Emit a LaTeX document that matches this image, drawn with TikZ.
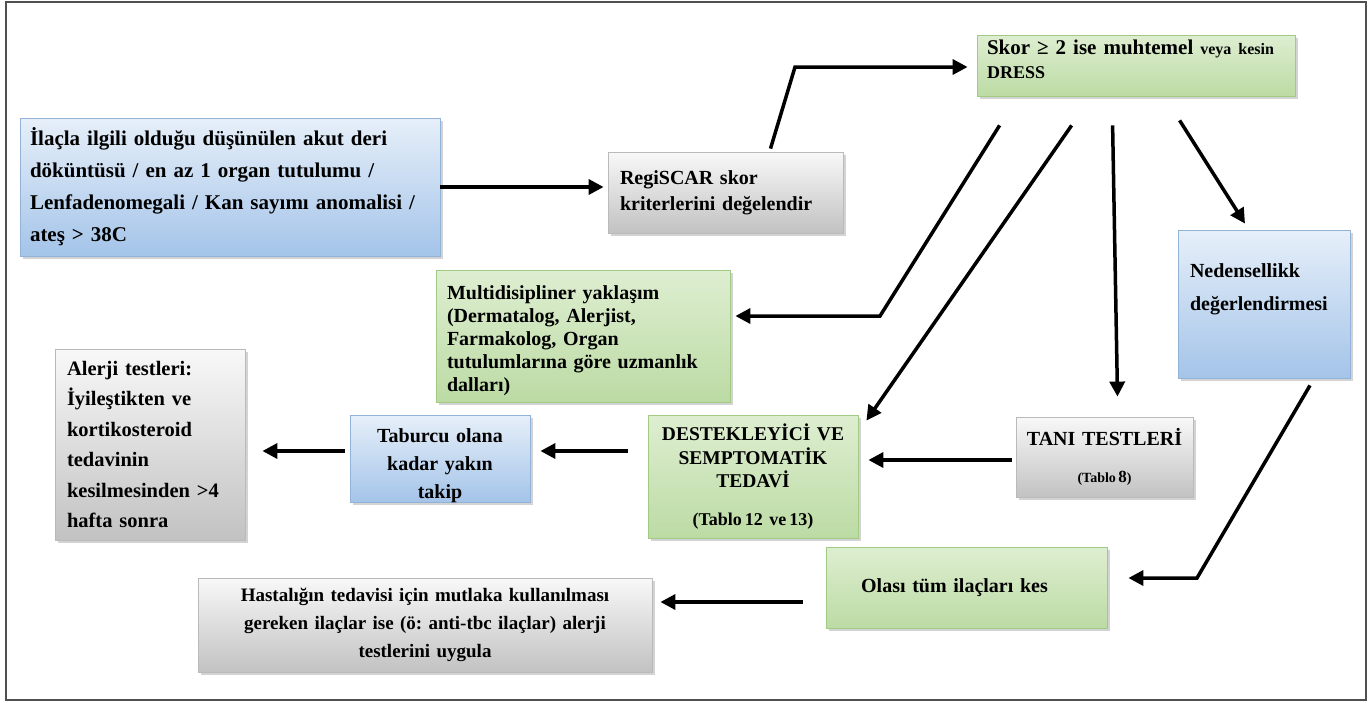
\documentclass[tikz,border=0pt]{standalone}
\usepackage{fontspec}
\setmainfont{Liberation Serif}
\usetikzlibrary{arrows.meta,shadows,calc}

\definecolor{bluetop}{HTML}{E6EFF9}
\definecolor{bluebot}{HTML}{A4C4E9}
\definecolor{blueline}{HTML}{93B2D8}
\definecolor{graytop}{HTML}{F8F8F8}
\definecolor{graybot}{HTML}{C2C2C2}
\definecolor{grayline}{HTML}{BABABA}
\definecolor{greentop}{HTML}{DEEED1}
\definecolor{greenbot}{HTML}{BCDBA4}
\definecolor{greenline}{HTML}{A1CB84}
\definecolor{framegray}{HTML}{505050}

\tikzset{
  box/.style={rectangle, line width=0.8pt, inner ysep=0pt, font=\bfseries,
    drop shadow={shadow xshift=2.5pt, shadow yshift=-3pt, opacity=0.35}},
  bluebox/.style={box, draw=blueline, top color=bluetop, bottom color=bluebot},
  graybox/.style={box, draw=grayline, top color=graytop, bottom color=graybot},
  greenbox/.style={box, draw=greenline, top color=greentop, bottom color=greenbot},
  arr/.style={line width=3.5pt, -{Triangle[length=15pt,width=15pt]}},
}

\begin{document}
\frenchspacing
\begin{tikzpicture}[x=1pt, y=-1pt]
\useasboundingbox (0,0) rectangle (1370,702);
\draw[line width=2pt, framegray] (6,2) rectangle (1366,700);

% boxes
\node[bluebox, minimum width=420pt, minimum height=138pt, text width=400pt,
      inner xsep=10pt, align=left, font=\bfseries\fontsize{21}{32}\selectfont]
  (A) at (230,187) {İlaçla ilgili olduğu düşünülen akut deri\\
  döküntüsü / en az 1 organ tutulumu /\\
  Lenfadenomegali / Kan sayımı anomalisi /\\
  ateş > 38C};

\node[graybox, minimum width=235pt, minimum height=81pt, text width=211pt,
      inner xsep=12pt, align=left, font=\bfseries\fontsize{20}{26}\selectfont]
  (B) at (725.5,192.5) {RegiSCAR skor\\ kriterlerini değelendir};

\node[greenbox, minimum width=318pt, minimum height=61pt, text width=298pt,
      inner xsep=10pt, align=left, text depth=37pt,
      font=\bfseries\fontsize{21}{24}\selectfont]
  (C) at (1136,65.5) {Skor ≥ 2 ise muhtemel {\fontsize{16}{24}\selectfont veya kesin}\\
  {\fontsize{18}{24}\selectfont DRESS}};

\node[bluebox, minimum width=172pt, minimum height=148pt, text width=148pt,
      inner xsep=12pt, align=left, text depth=66pt,
      font=\bfseries\fontsize{20}{33}\selectfont]
  (D) at (1264,304) {Nedensellikk\\ değerlendirmesi};

\node[greenbox, minimum width=281pt, minimum height=81pt, text width=245pt,
      inner xsep=18pt, align=center, font=\bfseries\fontsize{20}{24}\selectfont]
  (E) at (966.5,587.5) {\hspace*{-24pt}Olası tüm ilaçları kes};

\node[graybox, minimum width=454pt, minimum height=94pt, text width=434pt,
      inner xsep=10pt, align=center, font=\bfseries\fontsize{19}{28}\selectfont]
  (F) at (425,625) {Hastalığın tedavisi için mutlaka kullanılması\\
  gereken ilaçlar ise (ö: anti-tbc ilaçlar) alerji\\
  testlerini uygula};

\node[graybox, minimum width=177pt, minimum height=80pt, text width=167pt,
      inner xsep=5pt, align=center, font=\bfseries\fontsize{20}{24}\selectfont]
  (G) at (1104.5,457) {TANI TESTLERİ\\[13pt]{\fontsize{14}{16}\selectfont (Tablo\,{\fontsize{17}{16}\selectfont 8})}};

\node[greenbox, minimum width=210pt, minimum height=123pt, text width=200pt,
      inner xsep=5pt, align=center, font=\bfseries\fontsize{19.5}{23.5}\selectfont]
  (H) at (753,476.5) {DESTEKLEYİCİ VE\\ SEMPTOMATİK\\ TEDAVİ\\[14pt]
  {\fontsize{18}{20}\selectfont (Tablo\,12 ve\,13)}};

\node[bluebox, minimum width=180pt, minimum height=87pt, text width=170pt,
      inner xsep=5pt, align=center, text depth=45pt,
      font=\bfseries\fontsize{20}{28}\selectfont]
  (I) at (440,458.5) {Taburcu olana\\ kadar yakın\\ takip};

\node[graybox, minimum width=190pt, minimum height=191pt, text width=166pt,
      inner xsep=12pt, align=left, font=\bfseries\fontsize{20.5}{30.5}\selectfont]
  (J) at (150,444.5) {Alerji testleri:\\ İyileştikten ve\\ kortikosteroid\\
  tedavinin\\ kesilmesinden >4\\ hafta sonra};

\node[greenbox, minimum width=294pt, minimum height=132pt, text width=272pt,
      inner xsep=11pt, align=left, text depth=86pt,
      font=\bfseries\fontsize{20}{23}\selectfont]
  (K) at (583,336) {Multidisipliner yaklaşım\\ (Dermatalog, Alerjist,\\
  Farmakolog, Organ\\ tutulumlarına göre uzmanlık\\ dalları)};

% bend points of the broken connectors
\coordinate (kB) at (795,67);
\coordinate (kK) at (880,316);
\coordinate (kE) at (1197,578);

% connectors
\draw[arr, shorten >=4pt] (A.east) -- (A.east -| B.west);
\draw[arr, shorten >=9pt] ($(B.north)+(45,-3)$) -- (kB) -- (kB -| C.west);
\draw[arr, shorten >=5pt] ($(C.south west)+(23,29)$) -- (kK) -- (kK -| K.east);
\draw[arr] ($(C.south west)+(95,29)$) -- ($(H.north east)+(8,6)$);
\draw[arr] ($(C.south west)+(136,29)$) -- ($(G.north)+(13,-20)$);
\draw[arr] ($(C.south west)+(203,24)$) -- ($(D.north)+(-19,-6)$);
\draw[arr, shorten >=21pt] ($(D.south)+(46,7)$) -- (kE) -- (kE -| E.east);
\draw[arr, shorten <=23pt, shorten >=8pt] ([yshift=-14.5pt]E.west) -- ([yshift=-14.5pt]E.west -| F.east);
\draw[arr, shorten <=4pt, shorten >=10pt] ([yshift=-3pt]G.west) -- ([yshift=-3pt]G.west -| H.east);
\draw[arr, shorten <=20pt, shorten >=10pt] ([yshift=25.5pt]H.west) -- ([yshift=25.5pt]H.west -| I.east);
\draw[arr, shorten <=5pt, shorten >=17pt] ([yshift=7.5pt]I.west) -- ([yshift=7.5pt]I.west -| J.east);
\end{tikzpicture}
\end{document}
